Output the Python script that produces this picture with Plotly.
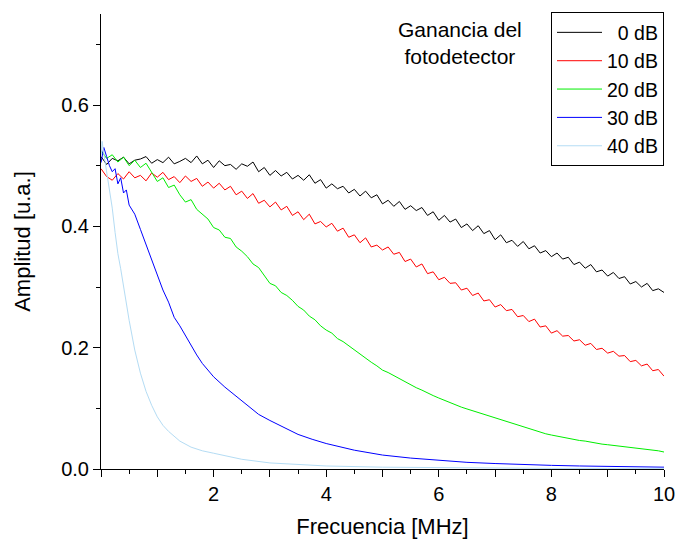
import plotly.graph_objects as go

# ---------------- data ----------------
freq = [round(i * 0.1, 1) for i in range(101)]

amp_0db = [
    0.515, 0.502, 0.512, 0.508, 0.514, 0.503, 0.509, 0.511, 0.515, 0.504,
    0.510, 0.505, 0.514, 0.503, 0.507, 0.512, 0.505, 0.516, 0.503, 0.509,
    0.497, 0.508, 0.500, 0.502, 0.494, 0.503, 0.499, 0.506, 0.490, 0.497,
    0.484, 0.492, 0.483, 0.489, 0.478, 0.484, 0.476, 0.485, 0.471, 0.477,
    0.463, 0.470, 0.462, 0.466, 0.455, 0.461, 0.450, 0.458, 0.447, 0.452,
    0.437, 0.443, 0.433, 0.441, 0.428, 0.434, 0.426, 0.431, 0.418, 0.424,
    0.410, 0.418, 0.407, 0.412, 0.398, 0.404, 0.393, 0.401, 0.388, 0.393,
    0.378, 0.386, 0.373, 0.377, 0.367, 0.375, 0.363, 0.368, 0.356, 0.360,
    0.350, 0.356, 0.346, 0.349, 0.337, 0.341, 0.331, 0.337, 0.325, 0.328,
    0.318, 0.324, 0.314, 0.317, 0.305, 0.309, 0.300, 0.306, 0.294, 0.297,
    0.291,
]

amp_10db = [
    0.495, 0.482, 0.476, 0.487, 0.478, 0.490, 0.480, 0.484, 0.475, 0.488,
    0.481, 0.489, 0.477, 0.482, 0.472, 0.483, 0.474, 0.479, 0.466, 0.473,
    0.463, 0.471, 0.460, 0.466, 0.452, 0.458, 0.446, 0.454, 0.438, 0.443,
    0.432, 0.440, 0.427, 0.433, 0.418, 0.424, 0.411, 0.420, 0.404, 0.408,
    0.399, 0.405, 0.392, 0.397, 0.382, 0.386, 0.373, 0.381, 0.366, 0.369,
    0.361, 0.366, 0.354, 0.357, 0.342, 0.346, 0.333, 0.338, 0.322, 0.325,
    0.312, 0.316, 0.306, 0.307, 0.295, 0.298, 0.286, 0.290, 0.277, 0.279,
    0.267, 0.271, 0.261, 0.263, 0.251, 0.253, 0.243, 0.247, 0.234, 0.236,
    0.224, 0.228, 0.219, 0.220, 0.211, 0.213, 0.204, 0.207, 0.197, 0.199,
    0.191, 0.194, 0.186, 0.187, 0.177, 0.179, 0.170, 0.173, 0.162, 0.164,
    0.153,
]

amp_20db = [
    0.525, 0.512, 0.518, 0.506, 0.514, 0.500, 0.509, 0.497, 0.504, 0.490,
    0.474, 0.480, 0.464, 0.468, 0.452, 0.440, 0.444, 0.428, 0.420, 0.412,
    0.398, 0.394, 0.382, 0.380, 0.366, 0.359, 0.350, 0.338, 0.332, 0.318,
    0.306, 0.302, 0.291, 0.286, 0.278, 0.268, 0.262, 0.252, 0.246, 0.236,
    0.229, 0.224, 0.215, 0.210, 0.203, 0.196, 0.189, 0.183, 0.176, 0.170,
    0.163, 0.159, 0.154, 0.148, 0.143, 0.139, 0.134, 0.130, 0.125, 0.121,
    0.117, 0.113, 0.109, 0.106, 0.102, 0.099, 0.096, 0.093, 0.090, 0.087,
    0.084, 0.081, 0.078, 0.075, 0.072, 0.069, 0.066, 0.063, 0.061, 0.058,
    0.056, 0.054, 0.052, 0.050, 0.049, 0.047, 0.046, 0.044, 0.043, 0.041,
    0.040, 0.039, 0.038, 0.036, 0.035, 0.034, 0.033, 0.032, 0.031, 0.030,
    0.028,
]

freq_30db = [0, 0.05, 0.1, 0.15, 0.2, 0.25, 0.3, 0.35, 0.4, 0.45, 0.5, 0.6, 0.7,
             0.8, 0.9, 1.0, 1.1, 1.2, 1.3, 1.4, 1.5, 1.6, 1.7, 1.8, 1.9, 2.0,
             2.2, 2.4, 2.6, 2.8, 3.0, 3.25, 3.5, 3.75, 4.0, 4.5, 5.0, 5.5, 6.0,
             6.5, 7.0, 7.5, 8.0, 8.5, 9.0, 9.5, 10.0]
amp_30db = [0.505, 0.530, 0.515, 0.500, 0.490, 0.495, 0.470, 0.480, 0.455, 0.460,
            0.435, 0.420, 0.395, 0.370, 0.345, 0.318, 0.295, 0.275, 0.250, 0.236,
            0.220, 0.202, 0.188, 0.174, 0.162, 0.152, 0.135, 0.120, 0.105, 0.090,
            0.080, 0.069, 0.057, 0.049, 0.042, 0.031, 0.023, 0.018, 0.014, 0.011,
            0.009, 0.007, 0.006, 0.005, 0.004, 0.004, 0.003]

freq_40db = [0, 0.02, 0.05, 0.1, 0.15, 0.2, 0.25, 0.3, 0.35, 0.4, 0.5, 0.6, 0.7,
             0.8, 0.9, 1.0, 1.1, 1.2, 1.4, 1.6, 1.8, 2.0, 2.25, 2.5, 3.0, 3.5,
             4.0, 5.0, 6.0, 7.0, 8.0, 9.0, 10.0]
amp_40db = [0.515, 0.540, 0.520, 0.490, 0.465, 0.430, 0.390, 0.355, 0.330, 0.300,
            0.245, 0.196, 0.158, 0.128, 0.105, 0.086, 0.072, 0.062, 0.046, 0.036,
            0.030, 0.026, 0.021, 0.016, 0.010, 0.007, 0.005, 0.003, 0.002, 0.0015,
            0.001, 0.001, 0.001]

series_names = ["\u00a0\u00a00 dB", "10 dB", "20 dB", "30 dB", "40 dB"]
series_colors = ["#000000", "#ff0000", "#00ee00", "#0000ff", "#b4dcf4"]

x_tickvals = [0, 1, 2, 3, 4, 5, 6, 7, 8, 9, 10]
x_ticktext = ["", "", "2", "", "4", "", "6", "", "8", "", "10"]
y_tickvals = [0.0, 0.2, 0.4, 0.6]
y_ticktext = ["0.0", "0.2", "0.4", "0.6"]

# ---------------- figure ----------------
font_family = "Liberation Sans, Arial, sans-serif"
fig = go.Figure()
xs = [freq, freq, freq, freq_30db, freq_40db]
ys = [amp_0db, amp_10db, amp_20db, amp_30db, amp_40db]
for name, color, x, y in zip(series_names, series_colors, xs, ys):
    fig.add_trace(go.Scatter(x=x, y=y, mode="lines", name=name,
                             line=dict(color=color, width=1)))

fig.update_layout(
    width=680, height=542,
    margin=dict(l=101, r=16, t=14, b=73),
    paper_bgcolor="white", plot_bgcolor="white",
    font=dict(family=font_family, size=20, color="black"),
    showlegend=True,
    legend=dict(x=1.0, y=1.004, xanchor="right", yanchor="top",
                bordercolor="black", borderwidth=1, bgcolor="white",
                font=dict(size=19.5), tracegroupgap=0, itemwidth=45),
    xaxis=dict(range=[0, 10], showgrid=False, zeroline=False, automargin=False,
               showline=True, linecolor="black", linewidth=1,
               ticks="outside", ticklen=7, tickcolor="black",
               tickmode="array", tickvals=x_tickvals, ticktext=x_ticktext,
               tickfont=dict(size=20),
               minor=dict(dtick=0.5, ticks="outside", ticklen=4, tickcolor="black"),
               title=dict(text="Frecuencia [MHz]", font=dict(size=22), standoff=14)),
    yaxis=dict(range=[0, 0.75], showgrid=False, zeroline=False, automargin=False,
               showline=True, linecolor="black", linewidth=1,
               ticks="outside", ticklen=7, tickcolor="black",
               tickmode="array", tickvals=y_tickvals, ticktext=y_ticktext,
               tickfont=dict(size=20),
               minor=dict(dtick=0.1, ticks="outside", ticklen=4, tickcolor="black"),
               title=dict(text="Amplitud [u.a.]", font=dict(size=22), standoff=24)),
    annotations=[dict(text="Ganancia del<br>fotodetector", x=0.638, y=0.995,
                      xref="paper", yref="paper", xanchor="center", yanchor="top",
                      showarrow=False, font=dict(size=21), align="center")],
)

fig.write_html("out.html")
